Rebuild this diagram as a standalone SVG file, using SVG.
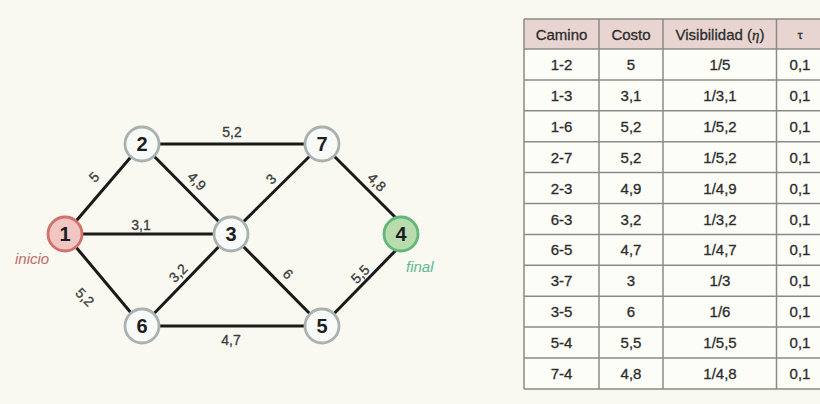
<svg xmlns="http://www.w3.org/2000/svg" width="820" height="404" viewBox="0 0 820 404">
<style>
.edge{stroke:#1a1a1a;stroke-width:3;fill:none}
.nd{fill:#f8faf8;stroke:#a9b2b0;stroke-width:2.8}
.nt{font-family:"Liberation Sans",Arial,sans-serif;font-weight:bold;font-size:20px;fill:#1e1e1e;text-anchor:middle}
.el{font-family:"Liberation Sans",Arial,sans-serif;font-size:14px;fill:#3c3c3c;stroke:#3c3c3c;stroke-width:0.3;text-anchor:middle}
.tb{font-family:"Liberation Sans",Arial,sans-serif;font-size:15px;fill:#2c2c2c;stroke:#2c2c2c;stroke-width:0.3;text-anchor:middle}
.grid{stroke:#8a8a86;stroke-width:1.5;fill:none}
</style>
<rect x="0" y="0" width="820" height="404" fill="#f9f9f1"/>
<g id="connectors">
<line class="edge" x1="65" y1="234" x2="142" y2="144"/>
<line class="edge" x1="65" y1="234" x2="231" y2="234"/>
<line class="edge" x1="65" y1="234" x2="142" y2="326"/>
<line class="edge" x1="142" y1="144" x2="322" y2="144"/>
<line class="edge" x1="142" y1="144" x2="231" y2="234"/>
<line class="edge" x1="142" y1="326" x2="231" y2="234"/>
<line class="edge" x1="142" y1="326" x2="322" y2="326"/>
<line class="edge" x1="231" y1="234" x2="322" y2="144"/>
<line class="edge" x1="231" y1="234" x2="322" y2="326"/>
<line class="edge" x1="322" y1="326" x2="399" y2="247"/>
<line class="edge" x1="322" y1="144" x2="399" y2="221"/>
<text class="el" x="232" y="137">5,2</text>
<text class="el" transform="translate(94,177) rotate(-45)" y="5">5</text>
<text class="el" transform="translate(197,181) rotate(45)" y="5">4,9</text>
<text class="el" x="141" y="230">3,1</text>
<text class="el" transform="translate(178,273) rotate(-45)" y="5">3,2</text>
<text class="el" transform="translate(85,297) rotate(45)" y="5">5,2</text>
<text class="el" x="231" y="345">4,7</text>
<text class="el" transform="translate(271,179) rotate(-45)" y="5">3</text>
<text class="el" transform="translate(377,182) rotate(45)" y="5">4,8</text>
<text class="el" transform="translate(288,274) rotate(45)" y="5">6</text>
<text class="el" transform="translate(360,274) rotate(-45)" y="5">5,5</text>
</g>
<g id="node1">
<circle cx="65" cy="234" r="17" fill="#f1c6c3" stroke="#d2706c" stroke-width="2.8"/>
<text class="nt" x="65" y="241">1</text>
<text x="15" y="264" font-family="Liberation Sans,Arial,sans-serif" font-style="italic" font-size="15" fill="#c0696a">inicio</text>
</g>
<g id="node2"><circle class="nd" cx="142" cy="144" r="17"/><text class="nt" x="142" y="151">2</text></g>
<g id="node3"><circle class="nd" cx="231" cy="234" r="17"/><text class="nt" x="231" y="241">3</text></g>
<g id="node4">
<circle cx="401" cy="234" r="17" fill="#b9dcaf" stroke="#62b777" stroke-width="2.8"/>
<text class="nt" x="401" y="241">4</text>
<text x="406" y="272" font-family="Liberation Sans,Arial,sans-serif" font-style="italic" font-size="15" fill="#5fb895">final</text>
</g>
<g id="node5"><circle class="nd" cx="322" cy="326" r="17"/><text class="nt" x="322" y="333">5</text></g>
<g id="node6"><circle class="nd" cx="142" cy="326" r="17"/><text class="nt" x="142" y="333">6</text></g>
<g id="node7"><circle class="nd" cx="322" cy="144" r="17"/><text class="nt" x="322" y="151">7</text></g>
<g id="table">
<rect x="524" y="19" width="302" height="370" fill="#fdfdf8"/>
<rect x="524" y="19" width="302" height="30" fill="#e8d5d1"/>
<path class="grid" d="M524 19H826M524 49H826M524 79.9H826M524 110.8H826M524 141.7H826M524 172.6H826M524 203.5H826M524 234.4H826M524 265.3H826M524 296.2H826M524 327.1H826M524 358H826M524 389H826M524 19V389M599 19V389M663 19V389M776.5 19V389"/>
<g class="tb">
<text x="561.5" y="39.5">Camino</text>
<text x="631" y="39.5">Costo</text>
<text x="720" y="39.5">Visibilidad  (<tspan font-family="Liberation Serif,serif" font-style="italic">η</tspan>)</text>
<text x="800" y="38.5" font-family="Liberation Serif,serif" font-size="13">τ</text>
</g>
<g class="tb">
<text x="561.5" y="70">1-2</text><text x="631" y="70">5</text><text x="720" y="70">1/5</text><text x="800" y="70">0,1</text>
<text x="561.5" y="100.9">1-3</text><text x="631" y="100.9">3,1</text><text x="720" y="100.9">1/3,1</text><text x="800" y="100.9">0,1</text>
<text x="561.5" y="131.8">1-6</text><text x="631" y="131.8">5,2</text><text x="720" y="131.8">1/5,2</text><text x="800" y="131.8">0,1</text>
<text x="561.5" y="162.7">2-7</text><text x="631" y="162.7">5,2</text><text x="720" y="162.7">1/5,2</text><text x="800" y="162.7">0,1</text>
<text x="561.5" y="193.6">2-3</text><text x="631" y="193.6">4,9</text><text x="720" y="193.6">1/4,9</text><text x="800" y="193.6">0,1</text>
<text x="561.5" y="224.5">6-3</text><text x="631" y="224.5">3,2</text><text x="720" y="224.5">1/3,2</text><text x="800" y="224.5">0,1</text>
<text x="561.5" y="255.4">6-5</text><text x="631" y="255.4">4,7</text><text x="720" y="255.4">1/4,7</text><text x="800" y="255.4">0,1</text>
<text x="561.5" y="286.3">3-7</text><text x="631" y="286.3">3</text><text x="720" y="286.3">1/3</text><text x="800" y="286.3">0,1</text>
<text x="561.5" y="317.2">3-5</text><text x="631" y="317.2">6</text><text x="720" y="317.2">1/6</text><text x="800" y="317.2">0,1</text>
<text x="561.5" y="348.1">5-4</text><text x="631" y="348.1">5,5</text><text x="720" y="348.1">1/5,5</text><text x="800" y="348.1">0,1</text>
<text x="561.5" y="379">7-4</text><text x="631" y="379">4,8</text><text x="720" y="379">1/4,8</text><text x="800" y="379">0,1</text>
</g>
</g>
</svg>
